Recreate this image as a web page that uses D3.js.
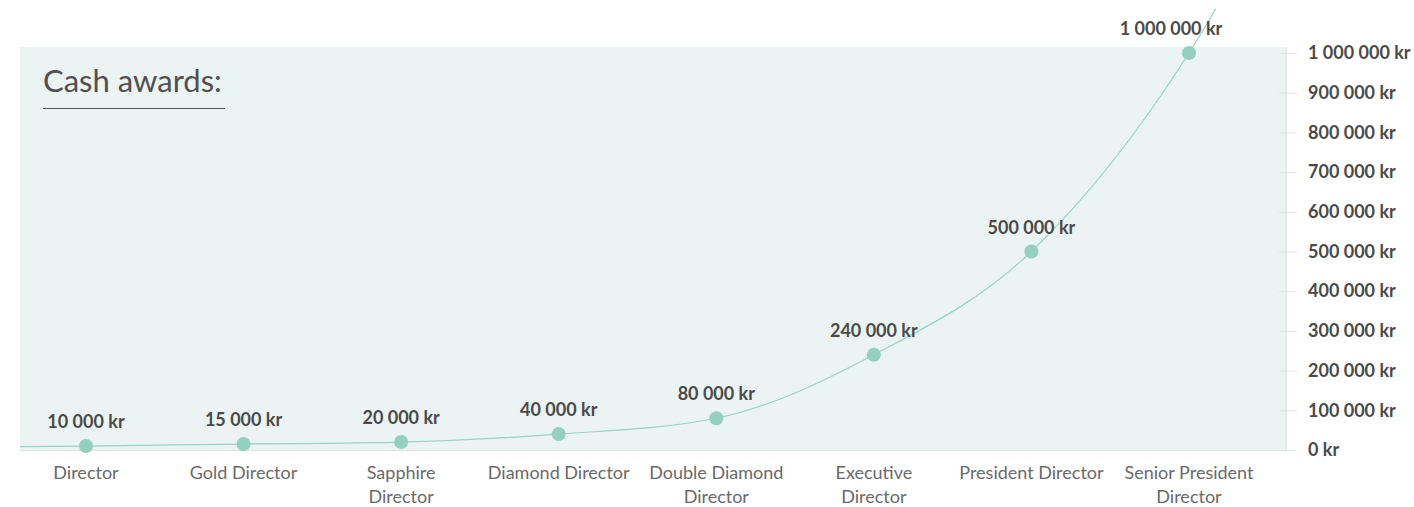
<!DOCTYPE html>
<html>
<head>
<meta charset="utf-8">
<script src="https://cdn.jsdelivr.net/npm/d3@7"></script>
<style>
  html, body { margin: 0; padding: 0; background: #ffffff; }
  svg { display: block; font-family: Lato, "Open Sans", sans-serif; }
</style>
</head>
<body>
<svg id="chart" width="1414" height="507"></svg>
<script>
// ---- data ----
const categories = ["Director", "Gold Director", "Sapphire Director", "Diamond Director",
  "Double Diamond Director", "Executive Director", "President Director", "Senior President Director"];
const categoryLines = [["Director"], ["Gold Director"], ["Sapphire", "Director"], ["Diamond Director"],
  ["Double Diamond", "Director"], ["Executive", "Director"], ["President Director"], ["Senior President", "Director"]];
const awards = [10000, 15000, 20000, 40000, 80000, 240000, 500000, 1000000];
const yTicks = [0, 100000, 200000, 300000, 400000, 500000, 600000, 700000, 800000, 900000, 1000000];
// curve continues beyond the first/last rank (values one step outside the range)
const curveLead = 7000;
const curveTail = 1750000;
const title = "Cash awards:";

// ---- layout ----
const W = 1414, H = 507;
const plot = { left: 20, right: 1287, top: 47, bottom: 450 };

const svg = d3.select("#chart");

const x = d3.scalePoint().domain(categories).range([86, 1189]).padding(0);
const y = d3.scaleLinear().domain([0, 1000000]).range([plot.bottom, 53]);
const step = x.step();

const fmt = d3.formatLocale({ decimal: ",", thousands: "\u00a0", grouping: [3], currency: ["", "\u00a0kr"] }).format("$,");

// background panel
svg.append("rect")
  .attr("x", plot.left).attr("y", plot.top)
  .attr("width", plot.right - plot.left).attr("height", plot.bottom - plot.top)
  .attr("fill", "#ebf4f2");
svg.append("line")
  .attr("x1", plot.right - 1).attr("x2", plot.right - 1)
  .attr("y1", plot.top).attr("y2", plot.bottom)
  .attr("stroke", "#e1eae8").attr("stroke-width", 2);
svg.append("line")
  .attr("x1", plot.left).attr("x2", plot.right)
  .attr("y1", plot.bottom + 0.5).attr("y2", plot.bottom + 0.5)
  .attr("stroke", "#dde3e1").attr("stroke-width", 1);

// y axis on the right
const yAxis = d3.axisRight(y)
  .tickValues(yTicks)
  .tickSize(18)
  .tickPadding(11)
  .tickFormat(d => fmt(d));
const ya = svg.append("g").attr("transform", `translate(${plot.right - 8},0)`).call(yAxis);
ya.select(".domain").remove();
ya.selectAll(".tick line").attr("stroke", "#dfe6e4");
ya.selectAll(".tick text")
  .attr("fill", "#4a4a4a")
  .style("font-size", "18px")
  .style("font-weight", "700")
  .style("font-family", "Lato, sans-serif");

// category labels
const cat = svg.append("g").selectAll("text").data(categories).join("text")
  .attr("x", d => x(d))
  .attr("y", 479)
  .attr("text-anchor", "middle")
  .attr("fill", "#6a6a6a")
  .style("font-size", "18px");
cat.each(function (d, i) {
  d3.select(this).selectAll("tspan").data(categoryLines[i]).join("tspan")
    .attr("x", x(d))
    .attr("dy", (t, j) => j === 0 ? 0 : 24)
    .text(t => t);
});

// curve
svg.append("clipPath").attr("id", "clip")
  .append("rect").attr("x", plot.left).attr("y", 9).attr("width", W - plot.left).attr("height", H - 9);

const curvePts = [[x(categories[0]) - step, curveLead]]
  .concat(categories.map((c, i) => [x(c), awards[i]]))
  .concat([[x(categories[categories.length - 1]) + step, curveTail]]);

const line = d3.line().x(d => d[0]).y(d => y(d[1])).curve(d3.curveMonotoneX);
svg.append("path")
  .attr("clip-path", "url(#clip)")
  .attr("d", line(curvePts))
  .attr("fill", "none")
  .attr("stroke", "#98d4c2")
  .attr("stroke-width", 1.2);

// points
svg.append("g").selectAll("circle").data(categories).join("circle")
  .attr("cx", d => x(d))
  .attr("cy", (d, i) => y(awards[i]))
  .attr("r", 7)
  .attr("fill", "#93d0bd");

// value labels
const last = categories.length - 1;
svg.append("g").selectAll("text").data(categories).join("text")
  .attr("x", d => x(d))
  .attr("y", (d, i) => y(awards[i]) - 18)
  .attr("dx", (d, i) => i === last ? -18 : 0)
  .attr("text-anchor", "middle")
  .attr("fill", "#4a4a4a")
  .style("font-size", "18px")
  .style("font-weight", "700")
  .text((d, i) => fmt(awards[i]));

// title
svg.append("text")
  .attr("x", 43).attr("y", 92)
  .attr("fill", "#505050")
  .style("font-size", "31px")
  .text(title);
svg.append("line")
  .attr("x1", 43).attr("x2", 225)
  .attr("y1", 108.5).attr("y2", 108.5)
  .attr("stroke", "#555555").attr("stroke-width", 1);
</script>
</body>
</html>
